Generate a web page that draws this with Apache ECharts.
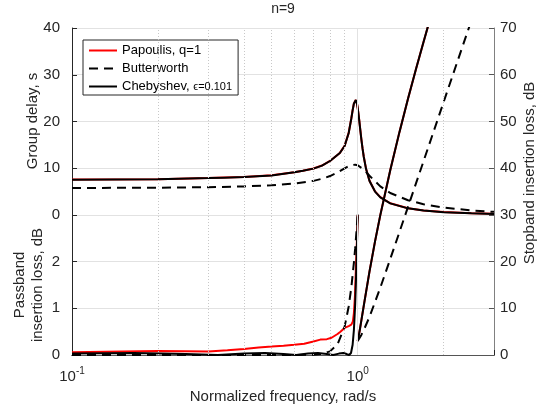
<!DOCTYPE html>
<html><head><meta charset="utf-8">
<script src="https://cdn.jsdelivr.net/npm/echarts@6/dist/echarts.min.js"></script>
<style>html,body{margin:0;padding:0;background:#fff}#c{width:540px;height:409px}</style>
</head><body><div id="c"></div>
<script>
const FONT = '"Liberation Sans", Arial, Helvetica, sans-serif';
const TXT = '#262626';

// ---- Group delay (top panel, s) ----
const chGdFreq = [0.1, 0.2, 0.3, 0.34, 0.4, 0.5, 0.6, 0.643, 0.7, 0.75, 0.8, 0.866, 0.9, 0.93, 0.95, 0.96, 0.97, 0.985, 0.995, 1.0, 1.01, 1.02, 1.03, 1.04, 1.05, 1.07, 1.1, 1.15, 1.2, 1.3, 1.5, 1.7, 2, 2.5, 3];
const chGd     = [7.55, 7.63, 7.89, 7.99, 8.11, 8.46, 9.14, 9.46, 9.92, 10.56, 11.55, 13.26, 14.76, 17.55, 20.65, 22.38, 23.85, 24.58, 23.71, 22.91, 20.83, 18.48, 16.20, 14.18, 12.46, 9.82, 7.29, 5.01, 3.78, 2.49, 1.42, 0.95, 0.60, 0.35, 0.23];
const paGd     = [7.57, 7.65, 7.91, 8.01, 8.13, 8.48, 9.16, 9.48, 9.94, 10.58, 11.57, 13.28, 14.78, 17.57, 20.67, 22.40, 23.87, 24.60, 23.73, 22.95, 20.87, 18.52, 16.25, 14.23, 12.51, 9.87, 7.33, 5.04, 3.81, 2.51, 1.44, 0.97, 0.62, 0.37, 0.25];
const bwGdFreq = [0.1, 0.2, 0.3, 0.4, 0.5, 0.6, 0.7, 0.75, 0.8, 0.85, 0.9, 0.93, 0.95, 0.98, 1.0, 1.05, 1.1, 1.2, 1.3, 1.5, 1.7, 2, 2.5, 3];
const bwGd     = [5.78, 5.84, 5.95, 6.12, 6.36, 6.73, 7.30, 7.75, 8.33, 9.10, 9.99, 10.45, 10.68, 10.76, 10.63, 9.71, 8.39, 6.13, 4.70, 3.15, 2.31, 1.59, 0.98, 0.67];

// ---- Passband insertion loss (bottom panel, dB) ----
const paPbFreq = [0.1, 0.15, 0.2, 0.25, 0.3, 0.35, 0.4, 0.45, 0.5, 0.55, 0.6, 0.65, 0.7, 0.74, 0.78, 0.81, 0.85, 0.87, 0.9, 0.93, 0.95, 0.962, 0.97, 0.978, 0.985, 0.992, 1.0];
const paPb     = [0.06, 0.075, 0.085, 0.08, 0.075, 0.1, 0.13, 0.16, 0.18, 0.2, 0.22, 0.24, 0.29, 0.33, 0.34, 0.37, 0.45, 0.5, 0.58, 0.62, 0.65, 0.72, 0.9, 1.25, 1.8, 2.3, 3.0];
const chPbFreq = [0.1, 0.1645, 0.25, 0.3241, 0.4, 0.4738, 0.55, 0.6091, 0.67, 0.7258, 0.78, 0.8206, 0.86, 0.8904, 0.915, 0.9331, 0.9475, 0.96, 0.97, 0.98, 0.99, 1.0];
const chPb     = [0.03, 0.044, 0.02, 0.0, 0.03, 0.044, 0.02, 0.0, 0.03, 0.044, 0.02, 0.0, 0.03, 0.044, 0.02, 0.0, 0.044, 0.22, 0.54, 1.09, 1.91, 3.01];
const bwPbFreq = [0.1, 0.5, 0.6, 0.7, 0.75, 0.8, 0.85, 0.9, 0.93, 0.95, 0.97, 0.98, 0.99, 1.0];
const bwPb     = [0.0, 0.0, 0.0, 0.007, 0.024, 0.078, 0.227, 0.607, 1.04, 1.45, 1.98, 2.29, 2.64, 3.01];

// ---- Stopband insertion loss (right axis, dB) ----
const chSbFreq = [1.0, 1.005, 1.01, 1.02, 1.05, 1.1, 1.15, 1.2, 1.3, 1.4, 1.5, 1.6, 1.7, 1.8];
const chSb     = [3.01, 3.64, 4.32, 5.79, 10.51, 17.91, 24.32, 29.94, 39.56, 47.71, 54.84, 61.23, 67.02, 72.33];
const paSb     = [3.01, 3.64, 4.32, 5.79, 10.51, 17.91, 24.32, 29.94, 39.56, 47.71, 54.84, 61.23, 67.02, 72.33];
const bwSbFreq = [1.0, 1.03, 1.05, 1.1, 1.2, 1.3, 1.4, 1.5, 1.7, 2, 2.3, 2.5];
const bwSb     = [3.01, 4.3, 5.32, 8.17, 14.41, 20.55, 26.31, 31.7, 41.48, 54.19, 65.11, 71.6];

// ---- Axes / labels ----
const names = ['Papoulis, q=1', 'Butterworth', 'Chebyshev, ϵ=0.101'];
const xMin = 0.1, xMax = 3;
const minorGrid = [0.2, 0.3, 0.4, 0.5, 0.6, 0.7, 0.8, 0.9, 2];
const majorGrid = [1];

const zip = (xs, ys) => xs.map((x, i) => [x, ys[i]]);
const RED = '#ff0000', BLK = '#000000';
const DASH = [9, 6];

function mk(name, gi, xs, ys, color, dashed, z) {
  return {
    type: 'line', name, xAxisIndex: gi, yAxisIndex: gi, data: zip(xs, ys),
    symbol: 'none', showSymbol: false, smooth: false, z,
    lineStyle: { color, width: 2, type: dashed ? DASH : 'solid' },
    itemStyle: { color }, emphasis: { disabled: true }, animation: false
  };
}

const chart = echarts.init(document.getElementById('c'), null, { renderer: 'canvas' });
const gridBase = { left: 72, right: 46 };
const option = {
  animation: false,
  backgroundColor: '#fff',
  grid: [
    Object.assign({ top: 28, height: 187 }, gridBase),
    Object.assign({ top: 215, height: 140 }, gridBase),
    Object.assign({ top: 28, height: 327 }, gridBase)
  ],
  xAxis: [
    { gridIndex: 0, type: 'log', logBase: 10, min: xMin, max: xMax, show: false },
    { gridIndex: 1, type: 'log', logBase: 10, min: xMin, max: xMax, position: 'bottom',
      axisLine: { show: true, lineStyle: { color: TXT, width: 1 } },
      axisTick: { show: true, inside: true, length: 5, lineStyle: { color: TXT } },
      splitLine: { show: false },
      axisLabel: {
        margin: 11, color: TXT,
        formatter: v => Math.abs(v - 0.1) < 1e-6 ? '{b|10}{s|-1}' : (Math.abs(v - 1) < 1e-6 ? '{b|10}{s|0}' : ''),
        rich: { b: { fontSize: 15, fontFamily: FONT, color: TXT },
                s: { fontSize: 10, fontFamily: FONT, color: TXT, padding: [0, 0, 12, 0] } }
      } },
    { gridIndex: 2, type: 'log', logBase: 10, min: xMin, max: xMax, position: 'top',
      axisLine: { show: true, lineStyle: { color: '#555', width: 1 } },
      axisTick: { show: false }, axisLabel: { show: false }, splitLine: { show: false } }
  ],
  yAxis: [
    { gridIndex: 0, type: 'value', min: 0, max: 40, interval: 10, position: 'left',
      axisLine: { show: true, lineStyle: { color: TXT } },
      axisTick: { show: true, inside: true, length: 5, lineStyle: { color: TXT } },
      axisLabel: { margin: 12, color: TXT, fontSize: 15, fontFamily: FONT },
      splitLine: { show: false } },
    { gridIndex: 1, type: 'value', min: 0, max: 3, interval: 1, position: 'left',
      axisLine: { show: true, lineStyle: { color: TXT } },
      axisTick: { show: true, inside: true, length: 5, lineStyle: { color: TXT } },
      axisLabel: { margin: 12, color: TXT, fontSize: 15, fontFamily: FONT,
                   formatter: v => (v >= 3 ? '' : String(v)) },
      splitLine: { show: false } },
    { gridIndex: 2, type: 'value', min: 0, max: 70, interval: 10, position: 'right',
      axisLine: { show: true, lineStyle: { color: '#808080' } },
      axisTick: { show: true, inside: true, length: 5, lineStyle: { color: '#555' } },
      axisLabel: { margin: 6, color: TXT, fontSize: 15, fontFamily: FONT },
      splitLine: { show: true, lineStyle: { color: '#e2e2e2', width: 1 } } }
  ],
  legend: {
    orient: 'vertical', left: 83, top: 40,
    data: names,
    itemWidth: 28, itemHeight: 14, itemGap: 5,
    padding: [4, 6, 2, 5],
    borderColor: TXT, borderWidth: 1, backgroundColor: '#fff',
    selectedMode: false,
    itemStyle: { opacity: 0, borderWidth: 0 },
    textStyle: { fontSize: 13, fontFamily: FONT, color: '#000',
      rich: { a: { fontSize: 13, fontFamily: FONT, color: '#000' },
              e: { fontSize: 11, fontFamily: FONT, color: '#000' } } },
    formatter: n => n.indexOf('Chebyshev') === 0 ? '{a|Chebyshev, }{e|ϵ=0.101}' : n
  },
  graphic: [
    { type: 'text', x: 283, y: 9, style: { text: 'n=9', font: '14px ' + FONT, fill: TXT, align: 'center', verticalAlign: 'middle' } },
    { type: 'text', x: 283, y: 397, style: { text: 'Normalized frequency, rad/s', font: '15px ' + FONT, fill: TXT, align: 'center', verticalAlign: 'middle' } },
    { type: 'text', x: 33, y: 121, rotation: Math.PI / 2, style: { text: 'Group delay, s', font: '15px ' + FONT, fill: TXT, align: 'center', verticalAlign: 'middle' } },
    { type: 'text', x: 29, y: 285, rotation: Math.PI / 2, style: { text: 'Passband\ninsertion loss, dB', font: '15px ' + FONT, lineHeight: 18, fill: TXT, align: 'center', verticalAlign: 'middle' } },
    { type: 'text', x: 530, y: 173, rotation: Math.PI / 2, style: { text: 'Stopband insertion loss, dB', font: '15px ' + FONT, fill: TXT, align: 'center', verticalAlign: 'middle' } }
  ],
  series: [
    {
      type: 'line', name: 'grid', xAxisIndex: 2, yAxisIndex: 2, data: [[1, -5]], symbol: 'none',
      lineStyle: { opacity: 0 }, z: 1, silent: true, animation: false,
      markLine: {
        silent: true, symbol: ['none', 'none'], label: { show: false }, animation: false,
        data: minorGrid.map(v => ({ xAxis: v, lineStyle: { color: '#c8c8c8', width: 1, type: [1, 2] } }))
          .concat(majorGrid.map(v => ({ xAxis: v, lineStyle: { color: '#e2e2e2', width: 1, type: 'solid' } })))
      }
    },
    mk(names[0], 0, chGdFreq, paGd, RED, false, 2),
    mk(names[0], 1, paPbFreq, paPb, RED, false, 2),
    mk(names[0], 2, chSbFreq, paSb, RED, false, 2),
    mk(names[1], 0, bwGdFreq, bwGd, BLK, true, 3),
    mk(names[1], 1, bwPbFreq, bwPb, BLK, true, 3),
    mk(names[1], 2, bwSbFreq, bwSb, BLK, true, 3),
    mk(names[2], 0, chGdFreq, chGd, BLK, false, 4),
    mk(names[2], 1, chPbFreq, chPb, BLK, false, 4),
    mk(names[2], 2, chSbFreq, chSb, BLK, false, 4)
  ]
};
chart.setOption(option);
</script>
</body></html>
